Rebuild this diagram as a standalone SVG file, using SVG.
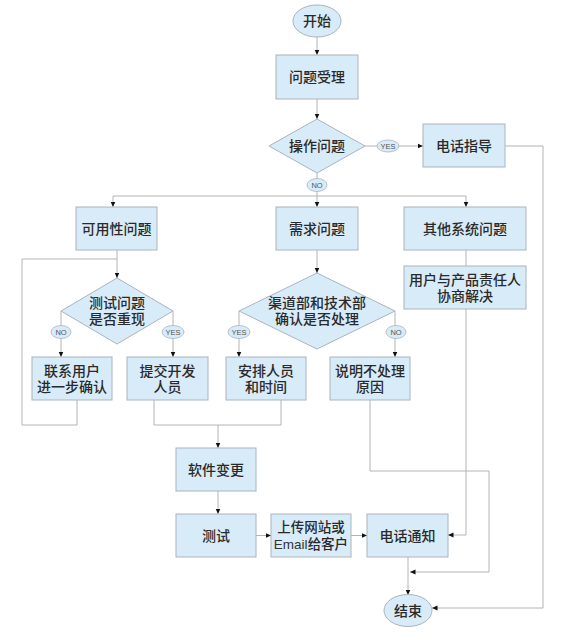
<svg xmlns="http://www.w3.org/2000/svg" width="583" height="640" viewBox="0 0 583 640">
<defs>
<style>
.n{fill:#d8ebf8;stroke:#aab4bd;stroke-width:1}
.t{font-family:"Liberation Sans","Noto Sans CJK SC",sans-serif;font-size:14px;font-weight:500;fill:#2a2a2a;text-anchor:middle;dominant-baseline:central}
.c{fill:none;stroke:#b4b4b4;stroke-width:1}
.lb{fill:#d8ebf8;stroke:#aab4bd;stroke-width:0.8}
.lt{font-family:"Liberation Sans","DejaVu Sans",sans-serif;font-size:7.5px;fill:#555;text-anchor:middle;dominant-baseline:central}
</style>
<marker id="a" markerUnits="userSpaceOnUse" markerWidth="6" markerHeight="6" refX="5.5" refY="3" orient="auto">
<path d="M0,0.5 L5.5,3 L0,5.5 z" fill="#111"/>
</marker>
</defs>
<rect width="583" height="640" fill="#fff"/>
<g id="connectors">
<path class="c" d="M317,37 V55" marker-end="url(#a)"/>
<path class="c" d="M317,99 V119" marker-end="url(#a)"/>
<path class="c" d="M365,146 H423" marker-end="url(#a)"/>
<path class="c" d="M505,146 H543 V608 H432" marker-end="url(#a)"/>
<path class="c" d="M317,173 V196"/>
<path class="c" d="M113,196 H466"/>
<path class="c" d="M113,196 V207" marker-end="url(#a)"/>
<path class="c" d="M317,196 V207" marker-end="url(#a)"/>
<path class="c" d="M466,196 V207" marker-end="url(#a)"/>
<path class="c" d="M117,250 V278" marker-end="url(#a)"/>
<path class="c" d="M77,400 V425 H22 V259 H117"/>
<path class="c" d="M61,311 V357" marker-end="url(#a)"/>
<path class="c" d="M173,311 V357" marker-end="url(#a)"/>
<path class="c" d="M317,250 V273" marker-end="url(#a)"/>
<path class="c" d="M239,311 V357" marker-end="url(#a)"/>
<path class="c" d="M395,311 V357" marker-end="url(#a)"/>
<path class="c" d="M466,250 V535 H448" marker-end="url(#a)"/>
<path class="c" d="M154,400 V425 H281 V400"/>
<path class="c" d="M218,425 V448" marker-end="url(#a)"/>
<path class="c" d="M218,491 V514" marker-end="url(#a)"/>
<path class="c" d="M256,535.5 H271" marker-end="url(#a)"/>
<path class="c" d="M351,535.5 H367" marker-end="url(#a)"/>
<path class="c" d="M370,400 V471 H489 V572 H410" marker-end="url(#a)"/>
<path class="c" d="M408,557 V595" marker-end="url(#a)"/>
<g id="labels">
<ellipse class="lb" cx="388" cy="146" rx="11" ry="6"/><text class="lt" x="388" y="146">YES</text>
<ellipse class="lb" cx="317" cy="185" rx="10" ry="6.5"/><text class="lt" x="317" y="185">NO</text>
<ellipse class="lb" cx="61" cy="332" rx="10" ry="6.5"/><text class="lt" x="61" y="332">NO</text>
<ellipse class="lb" cx="173" cy="332" rx="11" ry="6.5"/><text class="lt" x="173" y="332">YES</text>
<ellipse class="lb" cx="239" cy="332" rx="11" ry="6.5"/><text class="lt" x="239" y="332">YES</text>
<ellipse class="lb" cx="396" cy="332" rx="10" ry="6.5"/><text class="lt" x="396" y="332">NO</text>
</g>
</g>
<g id="start"><ellipse class="n" cx="317" cy="21" rx="24" ry="16"/><text class="t" x="317" y="21">开始</text></g>
<g id="accept"><rect class="n" x="276" y="55" width="82" height="44"/><text class="t" x="317" y="77">问题受理</text></g>
<g id="op"><polygon class="n" points="269,146 317,119 365,146 317,173"/><text class="t" x="317" y="146">操作问题</text></g>
<g id="guide"><rect class="n" x="423" y="124" width="82" height="43"/><text class="t" x="464" y="145.5">电话指导</text></g>
<g id="usability"><rect class="n" x="76" y="207" width="81" height="43"/><text class="t" x="116.5" y="228.5">可用性问题</text></g>
<g id="demand"><rect class="n" x="276" y="207" width="82" height="43"/><text class="t" x="317" y="228.5">需求问题</text></g>
<g id="other"><rect class="n" x="404" y="207" width="122" height="43"/><text class="t" x="465" y="228.5">其他系统问题</text></g>
<g id="negotiate"><rect class="n" x="404" y="266" width="122" height="43"/><text class="t" x="465" y="279.5">用户与产品责任人<tspan x="465" dy="16">协商解决</tspan></text></g>
<g id="reproduce"><polygon class="n" points="61,311 117,278 173,311 117,344"/><text class="t" x="117" y="303">测试问题<tspan x="117" dy="16">是否重现</tspan></text></g>
<g id="decide"><polygon class="n" points="239,311 317,273 395,311 317,349"/><text class="t" x="317" y="303">渠道部和技术部<tspan x="317" dy="16">确认是否处理</tspan></text></g>
<g id="contact"><rect class="n" x="32" y="357" width="80" height="43"/><text class="t" x="72" y="370.5">联系用户<tspan x="72" dy="16">进一步确认</tspan></text></g>
<g id="submit"><rect class="n" x="127" y="357" width="81" height="43"/><text class="t" x="167.5" y="370.5">提交开发<tspan x="167.5" dy="16">人员</tspan></text></g>
<g id="arrange"><rect class="n" x="226" y="357" width="80" height="43"/><text class="t" x="266" y="370.5">安排人员<tspan x="266" dy="16">和时间</tspan></text></g>
<g id="explain"><rect class="n" x="330" y="357" width="80" height="43"/><text class="t" x="370" y="370.5">说明不处理<tspan x="370" dy="16">原因</tspan></text></g>
<g id="change"><rect class="n" x="176" y="448" width="80" height="43"/><text class="t" x="216" y="469.5">软件变更</text></g>
<g id="test"><rect class="n" x="176" y="514" width="80" height="43"/><text class="t" x="216" y="535.5">测试</text></g>
<g id="upload"><rect class="n" x="271" y="514" width="80" height="43"/><text class="t" x="311" y="527.5" style="font-size:13.5px">上传网站或<tspan x="311" dy="16"><tspan style="font-weight:normal;fill:#333">Email</tspan>给客户</tspan></text></g>
<g id="notify"><rect class="n" x="367" y="514" width="81" height="43"/><text class="t" x="407.5" y="535.5">电话通知</text></g>
<g id="end"><ellipse class="n" cx="408" cy="610.5" rx="24" ry="16"/><text class="t" x="408" y="610.5">结束</text></g>
</svg>
